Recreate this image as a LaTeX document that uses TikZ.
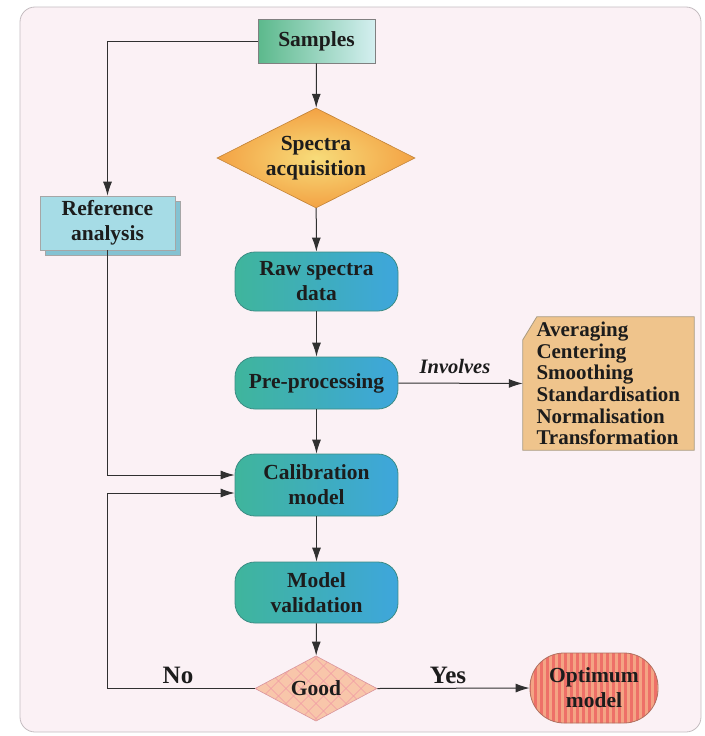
\documentclass[tikz,border=0pt]{standalone}
\usepackage{fontspec}
\setmainfont{Liberation Serif}
\usetikzlibrary{arrows.meta,shapes.geometric,calc,shadows}
\definecolor{bgcol}{HTML}{FBF1F5}
\definecolor{framecol}{HTML}{C4BCC0}
\definecolor{txt}{HTML}{1C1C1C}
\definecolor{sampL}{HTML}{5CB98C}
\definecolor{sampR}{HTML}{D4EFF0}
\definecolor{diaIn}{HTML}{F7DC7A}
\definecolor{diaOut}{HTML}{F3A244}
\definecolor{boxL}{HTML}{3FB59C}
\definecolor{boxM}{HTML}{52C6A6}
\definecolor{boxR}{HTML}{3EA6DC}
\definecolor{boxB}{HTML}{3C8C84}
\definecolor{refF}{HTML}{A6DCE6}
\definecolor{refS}{HTML}{84C2D2}
\definecolor{listF}{HTML}{EFC48C}
\definecolor{listB}{HTML}{A89A80}
\definecolor{goodF}{HTML}{F8C6AA}
\definecolor{goodH}{HTML}{F09AA4}
\definecolor{optF}{HTML}{F4A484}
\definecolor{optS}{HTML}{EE7068}
\definecolor{optB}{HTML}{B07060}
\definecolor{linecol}{HTML}{303030}
\pgfdeclarelayer{bgA}
\pgfdeclarelayer{bgB}
\pgfsetlayers{bgA,bgB,main}
\begin{document}
\begin{tikzpicture}[x=1pt,y=-1pt,
  mainfont/.style={font=\bfseries\fontsize{21.5}{25}\selectfont, text=txt, align=center},
  samplebox/.style={mainfont, draw=gray, line width=0.8pt, left color=sampL, right color=sampR, minimum width=117pt, minimum height=44pt, inner sep=0pt},
  decision/.style={mainfont, diamond, draw=diaOut!80!black, line width=0.6pt, inner color=diaIn, outer color=diaOut, inner sep=0pt, aspect=2},
  procbox/.style={mainfont, draw=boxB, line width=0.8pt, rounded corners=20pt, left color=boxL, middle color=boxM, right color=boxR, minimum width=163pt, inner sep=0pt},
  refbox/.style={mainfont, draw=gray!70, line width=0.6pt, fill=refF, minimum width=135pt, minimum height=54pt, inner sep=0pt,
     copy shadow={shadow xshift=5pt, shadow yshift=-5pt, fill=refS, draw=gray!70}},
  arr/.style={draw=linecol, line width=1pt, -{Latex[length=14pt,width=9pt]}},
  lab/.style={font=\bfseries\fontsize{25}{28}\selectfont, text=txt}
]
\useasboundingbox (0,0) rectangle (704,736);
\begin{pgfonlayer}{bgA}
\draw[framecol, fill=bgcol, line width=0.8pt, rounded corners=15pt] (20,7) rectangle (701,732);
\end{pgfonlayer}

\node[samplebox] (samples) at (316.5,41) {Samples};
\node[decision, minimum width=198pt, minimum height=100pt] (acq) at (316,158) {Spectra\\acquisition};
\node[refbox] (ref) at (107.5,223) {Reference\\analysis};
\node[procbox, minimum height=59pt] (raw) at (316.5,281.5) {Raw spectra\\data};
\node[procbox, minimum height=52pt] (pre) at (316.5,383) {Pre-processing};
\node[procbox, minimum height=62pt] (calib) at (316.5,485) {Calibration\\model};
\node[procbox, minimum height=61pt] (valid) at (316.5,592.5) {Model\\validation};
\node[mainfont, diamond, draw=goodH!80!gray, line width=0.6pt, fill=goodF, inner sep=0pt,
  minimum width=122pt, minimum height=44pt,
  path picture={
    \foreach \i in {-8,...,8} {
      \draw[goodH, line width=0.6pt] ($(path picture bounding box.center)+(\i*15-40,-40)$) -- ++(80,80);
      \draw[goodH, line width=0.6pt] ($(path picture bounding box.center)+(\i*15+40,-40)$) -- ++(-80,80);
    }}] (good) at (316,688.5) {\phantom{Good}};
\node[mainfont] (goodtxt) at (good.center) {Good};
\node[mainfont, draw=optB, line width=0.8pt, fill=optF, rounded corners=34pt,
  minimum width=128pt, minimum height=70pt, inner sep=0pt,
  path picture={
    \foreach \i in {-12,...,12} {
      \fill[optS, sharp corners] ($(path picture bounding box.center)+(\i*6,-50)$) rectangle ++(3,100);
    }}] (opt) at (594,688) {\phantom{Optimum}\\\phantom{model}};
\node[mainfont] (opttxt) at (opt.center) {Optimum\\model};

\node[font=\bfseries\itshape\fontsize{20.5}{24}\selectfont, text=txt] (inv) at (455,366) {Involves};
\node[font=\bfseries\fontsize{21}{21.6}\selectfont, text=txt, align=left, minimum width=171pt, minimum height=133pt, inner sep=0pt, text width=144pt] (list) at (608.5,383.5)
  {Averaging\\Centering\\Smoothing\\Standardisation\\Normalisation\\Transformation};
\begin{pgfonlayer}{bgB}
\draw[listB, fill=listF, line width=0.8pt] ($(list.north west)+(0,23)$) -- ($(list.north west)+(14,0)$) -- (list.north east) -- (list.south east) -- (list.south west) -- cycle;
\end{pgfonlayer}

\node[lab] (no) at (178,675) {No};
\node[lab] (yes) at (448,675) {Yes};

\coordinate (loopL) at (ref.south |- good.west);

\draw[arr] (samples) -- (acq);
\draw[arr] (acq) -- (raw);
\draw[arr] (raw) -- (pre);
\draw[arr] (pre) -- (calib);
\draw[arr] (calib) -- (valid);
\draw[arr] (valid) -- (good);
\draw[arr] (samples.west) -| (ref.north);
\draw[arr] (pre.east) -- (list.west);
\draw[arr] (ref.south) |- ($(calib.west)+(0,-10)$);
\draw[arr] (good.west) -- (loopL) |- ($(calib.west)+(0,8)$);
\draw[arr] (good.east) -- (opt.west);
\end{tikzpicture}
\end{document}
